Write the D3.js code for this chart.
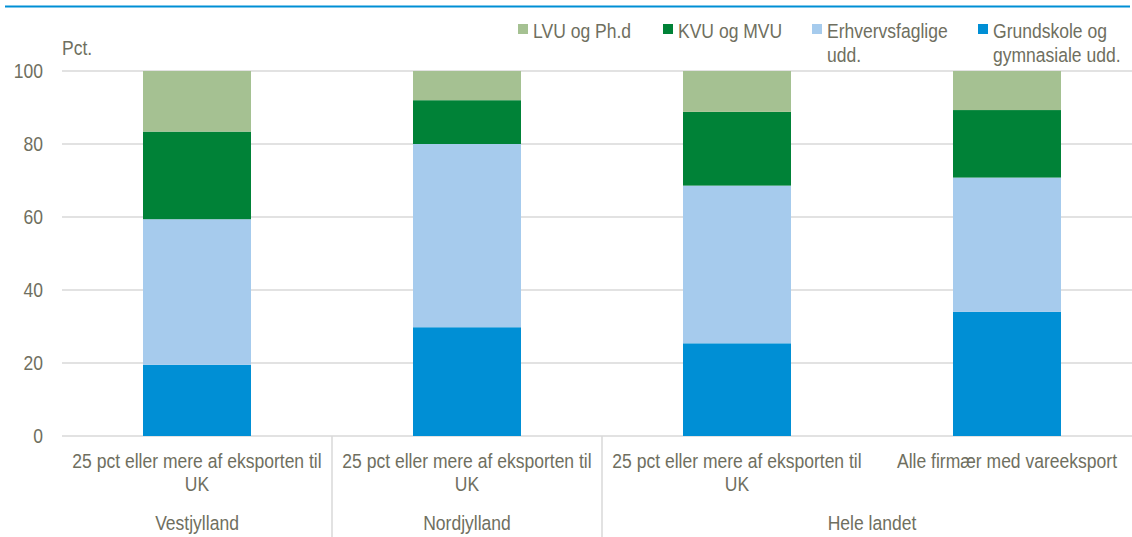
<!DOCTYPE html>
<html>
<head>
<meta charset="utf-8">
<script src="https://cdn.jsdelivr.net/npm/d3@7"></script>
<style>
	body { margin: 0; background: #fff; }
	svg text { font-family: "Liberation Sans", Arial, sans-serif; fill: #6f6f60; font-size: 20.5px; }
</style>
</head>
<body>
<script>
	// Data
	let categories = ['25 pct eller mere af eksporten til|UK', '25 pct eller mere af eksporten til|UK', '25 pct eller mere af eksporten til|UK', 'Alle firmær med vareeksport'];
	let groups = [
		{name: 'Vestjylland', from: 0, to: 1},
		{name: 'Nordjylland', from: 1, to: 2},
		{name: 'Hele landet', from: 2, to: 4}
	];
	let seriesNames = ['Grundskole og|gymnasiale udd.', 'Erhvervsfaglige|udd.', 'KVU og MVU', 'LVU og Ph.d'];
	let grundskole = [19.5, 29.8, 25.4, 34.0];
	let erhverv = [39.9, 50.2, 43.2, 36.8];
	let kvu = [24.0, 12.0, 20.2, 18.5];
	let lvu = [16.6, 8.0, 11.2, 10.7];
	let yTicks = [0, 20, 40, 60, 80, 100];
	let colors = ['#008fd5', '#a6cbed', '#008237', '#a5c192'];

	let width = 1132, height = 537;
	let margin = {left: 62, right: -10, top: 71, bottom: 101};
	let squeeze = 0.855; // narrow font look

	let svg = d3.select('body').append('svg')
		.attr('width', width)
		.attr('height', height);

	// Narrow text helper: one line per call
	function label(parent, x, y, str, anchor){
		return parent.append('text')
			.attr('transform', 'translate(' + x + ',' + y + ') scale(' + squeeze + ',1)')
			.attr('text-anchor', anchor || 'start')
			.text(str);
	}

	// Top rule
	svg.append('line')
		.attr('x1', 5).attr('x2', 1130)
		.attr('y1', 6.5).attr('y2', 6.5)
		.attr('stroke', '#008fd5')
		.attr('stroke-width', 2);

	// Build table for stack
	let table = categories.map((c, i) => ({
		idx: i,
		s0: grundskole[i], s1: erhverv[i], s2: kvu[i], s3: lvu[i]
	}));
	let stacked = d3.stack().keys(['s0', 's1', 's2', 's3'])(table);

	let x = d3.scaleBand()
		.domain(d3.range(categories.length))
		.range([margin.left, width - margin.right])
		.paddingInner(0.6)
		.paddingOuter(0.3);
	let step = x.step();
	let y = d3.scaleLinear()
		.domain([0, 100])
		.range([height - margin.bottom, margin.top]);

	// Grid
	svg.append('g')
		.selectAll('line')
		.data(yTicks).enter()
			.append('line')
			.attr('x1', margin.left)
			.attr('x2', width)
			.attr('y1', d => y(d))
			.attr('y2', d => y(d))
			.attr('stroke', '#d9d9d9')
			.attr('stroke-width', 1.5);

	// Y labels
	let yg = svg.append('g');
	yTicks.forEach(t => label(yg, 43, y(t) + 7, t, 'end'));
	label(svg, margin.left, 55, 'Pct.');

	// Bars
	svg.append('g')
		.selectAll('g')
		.data(stacked).enter()
			.append('g')
			.attr('fill', (d, i) => colors[i])
		.selectAll('rect')
			.data(d => d).enter()
			.append('rect')
			.attr('x', d => x(d.data.idx))
			.attr('width', x.bandwidth())
			.attr('y', d => y(d[1]))
			.attr('height', d => y(d[0]) - y(d[1]));

	// Separators between groups
	let x0 = x(0) - x.paddingOuter() * step;
	svg.append('g')
		.selectAll('line')
		.data(groups.slice(1)).enter()
			.append('line')
			.attr('x1', d => x0 + d.from * step)
			.attr('x2', d => x0 + d.from * step)
			.attr('y1', y(0))
			.attr('y2', height)
			.attr('stroke', '#d9d9d9')
			.attr('stroke-width', 1.5);

	// Category labels
	let cg = svg.append('g');
	categories.forEach((c, i) => {
		c.split('|').forEach((line, j) => {
			label(cg, x(i) + x.bandwidth() / 2, 468 + j * 23, line, 'middle');
		});
	});

	// Group labels
	let gg = svg.append('g');
	groups.forEach(g => label(gg, x0 + (g.from + g.to) / 2 * step, 530, g.name, 'middle'));

	// Legend (reverse order)
	let legendX = [978, 812, 663, 518];
	let legend = svg.append('g')
		.selectAll('g')
		.data(seriesNames).enter()
			.append('g')
			.attr('transform', (d, i) => 'translate(' + legendX[i] + ',24)');
	legend.append('rect')
		.attr('width', 10)
		.attr('height', 10)
		.attr('fill', (d, i) => colors[i]);
	legend.each(function(d){
		let g = d3.select(this);
		d.split('|').forEach((line, j) => label(g, 15, 14 + j * 24, line));
	});
</script>
</body>
</html>
